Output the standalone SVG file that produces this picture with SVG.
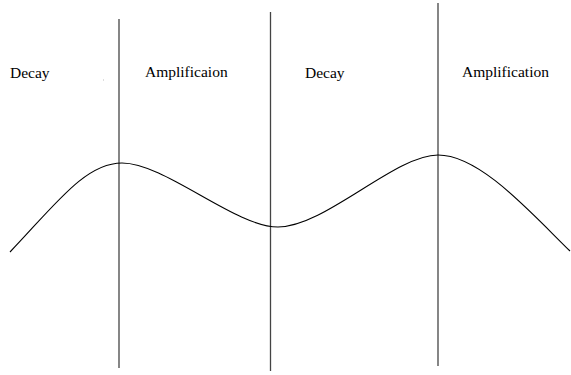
<svg xmlns="http://www.w3.org/2000/svg" width="571" height="375" viewBox="0 0 571 375">
<style>
text{font-family:'Liberation Serif','Times New Roman','DejaVu Serif',serif;font-size:15.5px;fill:#000}
.div{stroke:#444;stroke-width:1.3;fill:none}
.curve{stroke:#000;stroke-width:1.1;fill:none}
</style>
<rect width="571" height="375" fill="#fff"/>
<g id="labels">
<text x="10" y="78">Decay</text>
<text x="145" y="77">Amplificaion</text>
<text x="305" y="78">Decay</text>
<text x="462" y="77">Amplification</text>
</g>
<rect x="103" y="79.5" width="1" height="1" fill="#bbb"/>
<g id="connectors">
<line class="div" x1="119" y1="19" x2="119" y2="368"/>
<line class="div" x1="270.5" y1="12" x2="270.5" y2="371"/>
<line class="div" x1="438" y1="3" x2="438" y2="366" stroke="#111"/>
<path class="curve" d="M10,252 C55,205 85,163 122,163 C165,163 235,227 278,227 C325,227 395,155 438,155 C480,155 530,212 570,251"/>
</g>
</svg>
